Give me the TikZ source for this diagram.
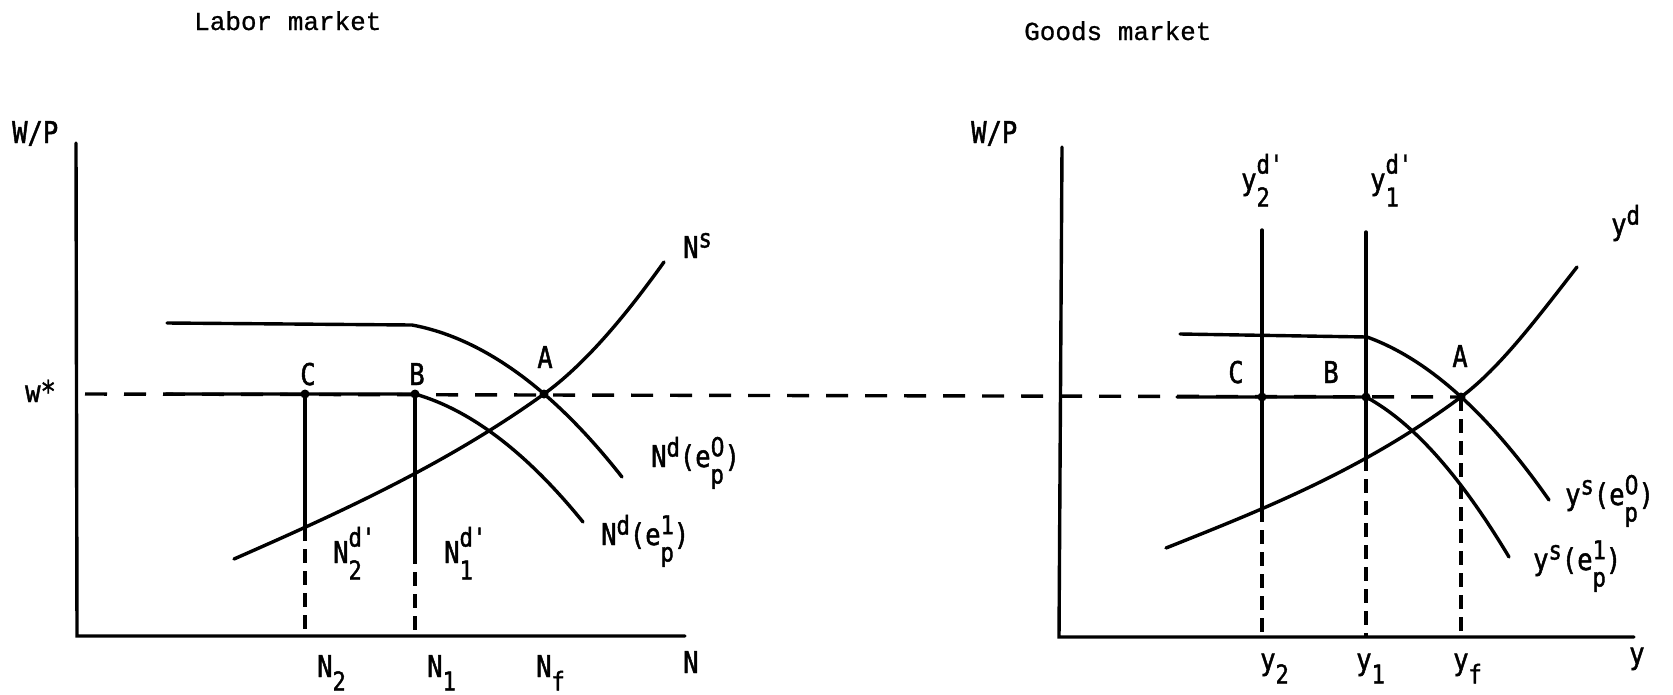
\documentclass[tikz,border=0pt]{standalone}
\usepackage{fontspec}
\newfontfamily\lf[FakeStretch=0.85,FakeBold=1.5]{DejaVu Sans Mono}
\newfontfamily\dz[FakeStretch=0.85,FakeBold=1.5]{DejaVu Sans}
\newfontfamily\tf[FakeBold=0.8]{Liberation Mono}
\newcommand{\ssz}{\fontsize{26}{28}\selectfont}
\newcommand{\Sp}[3][0.35em]{#2\raisebox{#1}{\ssz #3}}
\newcommand{\Sb}[3][0.45em]{#2\raisebox{-#1}{\ssz #3}}
\newcommand{\SpSb}[4][0.55em]{#2\mbox{\sbox0{\ssz #3}\sbox2{\ssz #4}%
 \ifdim\wd0>\wd2 \rlap{\raisebox{-0.55em}{\usebox2}}\raisebox{#1}{\usebox0}%
 \else\rlap{\raisebox{#1}{\usebox0}}\raisebox{-0.55em}{\usebox2}\fi}}
\newcommand{\zro}{{\dz 0}}
\begin{document}
\begin{tikzpicture}[x=1pt,y=-1pt,
 curve/.style={line width=3.4pt, line cap=round},
 axis/.style={line width=3.4pt, line cap=round},
 dsh/.style={line width=3.4pt, dash pattern=on 22pt off 17pt},
 vdsh/.style={line width=3.4pt, dash pattern=on 14pt off 8pt},
 lab/.style={font=\lf\fontsize{30}{32}\selectfont, inner sep=0pt, anchor=base west},
 ptl/.style={font=\lf\fontsize{30}{32}\selectfont, inner sep=0pt, anchor=base},
 dot/.style={circle, fill, inner sep=0pt, minimum size=9pt},
 ttl/.style={font=\tf\fontsize{26}{28}\selectfont, inner sep=0pt, anchor=base west}]
\useasboundingbox (0,0) rectangle (1673,694);
% ---------- left panel ----------
\coordinate (yTopL) at (76,143);
\coordinate (oL) at (77,636);
\coordinate (xEndL) at (685,636);
\coordinate (wL) at (85,394);
\coordinate (hL) at (166,394);
\coordinate (CL) at (305,394);
\coordinate (BL) at (415,394);
\coordinate (AL) at (544,394);
\coordinate (uL0) at (167,323);
\coordinate (kL) at (412,325);
\coordinate (eL0) at (622,477);
\coordinate (eL1) at (583,522);
\coordinate (sL0) at (234,559);
\coordinate (sL1) at (664,262);
\coordinate (CLs) at (305,527);
\coordinate (BLs) at (415,550);
% ---------- right panel ----------
\coordinate (yTopR) at (1062,147);
\coordinate (oR) at (1059,637);
\coordinate (xEndR) at (1634,637);
\coordinate (hR) at (1177,397);
\coordinate (CR) at (1262,397);
\coordinate (BR) at (1366,397);
\coordinate (AR) at (1461,397);
\coordinate (uR0) at (1180,334);
\coordinate (kR) at (1367,337);
\coordinate (eR0) at (1549,500);
\coordinate (eR1) at (1509,557);
\coordinate (dR0) at (1166,548);
\coordinate (dR1) at (1577,267);
\coordinate (y2top) at (1262,230);
\coordinate (y1top) at (1366,232);
\coordinate (y2s) at (1262,508);
\coordinate (y1s) at (1366,457);

% axes
\draw[axis] (yTopL) -- (oL) -- (xEndL);
\draw[axis] (yTopR) -- (oR) -- (xEndR);
% w* dashed line
\draw[dsh] (wL) -- (AR);
% left curves
\draw[curve] (uL0) -- (kL) .. controls (482,338) and (552,388) .. (eL0);
\draw[curve] (hL) -- (BL) .. controls (471,410) and (527,453) .. (eL1);
\draw[curve] (sL0) .. controls (334,515) and (444,466) .. (AL)
                   .. controls (584,365) and (624,318) .. (sL1);
\draw[curve] (CL) -- (CLs);
\draw[vdsh] (CLs) -- (CLs |- oL);
\draw[curve] (BL) -- (BLs);
\draw[vdsh] (BLs) -- (BLs |- oL);
\node[dot] (dC) at (CL) {};
\node[dot] (dB) at (BL) {};
\node[dot] (dA) at (AL) {};
% right curves
\draw[curve] (uR0) -- (kR) .. controls (1428,359) and (1488,413) .. (eR0);
\draw[curve] (hR) -- (BR) .. controls (1414,423) and (1461,477) .. (eR1);
\draw[curve] (dR0) .. controls (1264,509) and (1363,470) .. (AR)
                   .. controls (1500,368) and (1538,317) .. (dR1);
\draw[curve] (y2top) -- (y2s);
\draw[vdsh] (y2s) -- (y2s |- oR);
\draw[curve] (y1top) -- (y1s);
\draw[vdsh] (y1s) -- (y1s |- oR);
\draw[vdsh] (AR) -- (AR |- oR);
\node[dot] (dCR) at (CR) {};
\node[dot] (dBR) at (BR) {};
\node[dot] (dAR) at (AR) {};

% titles
\node[ttl] (t1) at (194,30) {Labor market};
\node[ttl] (t2) at (1024,40) {Goods market};
% left labels
\node[lab] (lWP) at (12,143) {W/P};
\node[lab] (lw) at (25,402) {w*};
\node[ptl] (lC) at (308,385) {C};
\node[ptl] (lB) at (417,385) {B};
\node[ptl] (lA) at (545,368) {A};
\node[lab] (lNs) at (683,258) {\Sp{N}{s}};
\node[lab] (lNd0) at (651,467) {\Sp{N}{d}(\SpSb[0.36em]{e}{\zro}{p})};
\node[lab] (lNd1) at (601,545) {\Sp{N}{d}(\SpSb[0.36em]{e}{1}{p})};
\node[lab] (lN2d) at (333,563) {\SpSb{N}{d'}{2}};
\node[lab] (lN1d) at (444,563) {\SpSb{N}{d'}{1}};
\node[lab] (lN2) at (317,677) {\Sb{N}{2}};
\node[lab] (lN1) at (427,677) {\Sb{N}{1}};
\node[lab] (lNf) at (536,677) {\Sb{N}{f}};
\node[lab] (lN) at (683,673) {N};
% right labels
\node[lab] (rWP) at (971,143) {W/P};
\node[lab] (ry2d) at (1241,190) {\SpSb{y}{d'}{2}};
\node[lab] (ry1d) at (1370,190) {\SpSb{y}{d'}{1}};
\node[lab] (ryd) at (1611,235) {\Sp{y}{d}};
\node[ptl] (rC) at (1236,383) {C};
\node[ptl] (rB) at (1331,383) {B};
\node[ptl] (rA) at (1460,367) {A};
\node[lab] (rys0) at (1565,505) {\Sp{y}{s}(\SpSb[0.36em]{e}{\zro}{p})};
\node[lab] (rys1) at (1533,570) {\Sp{y}{s}(\SpSb[0.36em]{e}{1}{p})};
\node[lab] (ry2) at (1260,670) {\Sb{y}{2}};
\node[lab] (ry1) at (1356,670) {\Sb{y}{1}};
\node[lab] (ryf) at (1453,670) {\Sb{y}{f}};
\node[lab] (ry) at (1629,664) {y};
\end{tikzpicture}
\end{document}
